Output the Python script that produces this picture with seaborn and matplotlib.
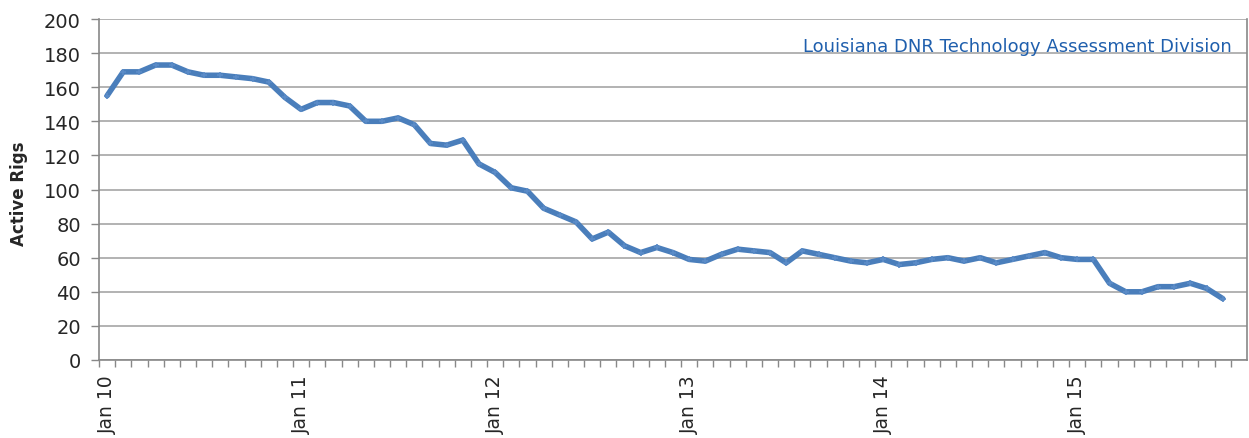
import seaborn as sns
import pandas as pd
import matplotlib.pyplot as plt

# Monthly active rig counts, Jan 2010 - Oct 2015
months = pd.date_range('2010-01-01', '2015-10-01', freq='MS')
rigs = [155, 169, 169, 173, 173, 169, 167, 167, 166, 165, 163, 154,
        147, 151, 151, 149, 140, 140, 142, 138, 127, 126, 129, 115,
        110, 101, 99, 89, 85, 81, 71, 75, 67, 63, 66, 63,
        59, 58, 62, 65, 64, 63, 57, 64, 62, 60, 58, 57,
        59, 56, 57, 59, 60, 58, 60, 57, 59, 61, 63, 60,
        59, 59, 45, 40, 40, 43, 43, 45, 42, 36]
year_labels = ['Jan 10', 'Jan 11', 'Jan 12', 'Jan 13', 'Jan 14', 'Jan 15']
source_text = 'Louisiana DNR Technology Assessment Division'

df = pd.DataFrame({'idx': range(len(rigs)), 'rigs': rigs})

sns.set_style('white')
plt.rcParams['font.family'] = ['DejaVu Sans']

fig = plt.figure(figsize=(12.49, 4.39), dpi=100)
ax = fig.add_axes([99 / 1249, 1 - 361 / 439, 1148 / 1249, 341 / 439])

sns.lineplot(data=df, x='idx', y='rigs', ax=ax, color='#4A7EBB', linewidth=4.0,
             marker='+', markersize=5, markeredgewidth=1.2, markeredgecolor='#5B8CC8')

ax.set_xlim(-0.5, 70.5)
ax.set_ylim(0, 200)
ax.set_yticks(range(0, 201, 20))
ax.yaxis.grid(True, color='#A6A6A6', linewidth=1.2)
ax.set_axisbelow(True)

# monthly tick marks between categories, labels every January
ax.set_xticks([i - 0.5 for i in range(71)], minor=True)
ax.set_xticks(range(0, 61, 12))
ax.set_xticklabels(year_labels, rotation=90)
ax.tick_params(axis='x', which='minor', length=5, width=1, color='#888888', direction='out', bottom=True)
ax.tick_params(axis='x', which='major', length=0, pad=10, labelsize=13.5)
ax.tick_params(axis='y', length=6, width=1, color='#888888', direction='out', left=True, labelsize=14, pad=7)

for side in ['left', 'bottom', 'right']:
    ax.spines[side].set_color('#888888')
    ax.spines[side].set_linewidth(1.2)
ax.spines['top'].set_visible(False)

ax.set_xlabel('')
ax.set_ylabel('Active Rigs', fontweight='bold', fontsize=12)
ax.yaxis.set_label_coords(-71 / 1148, 0.49)

ax.text(1 - 15 / 1148, 1 - 27 / 341, source_text, transform=ax.transAxes, ha='right', va='center',
        color='#1F5FAD', fontsize=13)

fig.savefig('out.png', dpi=100)
